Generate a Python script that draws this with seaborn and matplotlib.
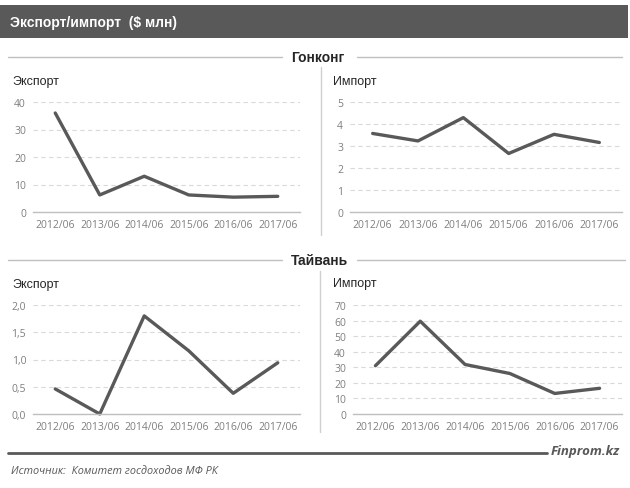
import matplotlib
matplotlib.use("Agg")
import matplotlib.pyplot as plt
import pandas as pd
import seaborn as sns

years = ["2012/06", "2013/06", "2014/06", "2015/06", "2016/06", "2017/06"]
hk_export = [36.0, 6.2, 13.0, 6.2, 5.4, 5.7]
hk_import = [3.57, 3.23, 4.29, 2.66, 3.53, 3.16]
tw_export = [0.46, 0.0, 1.80, 1.16, 0.38, 0.94]
tw_import = [31.0, 59.6, 31.8, 26.0, 13.2, 16.5]

hk_export_ticks = [0, 10, 20, 30, 40]
hk_import_ticks = [0, 1, 2, 3, 4, 5]
tw_export_ticks = [0, 0.5, 1.0, 1.5, 2.0]
tw_import_ticks = [0, 10, 20, 30, 40, 50, 60, 70]

sns.set_theme(style="white")
plt.rcParams["font.family"] = ["Liberation Sans", "DejaVu Sans"]

W, H = 630, 489
fig = plt.figure(figsize=(W / 100, H / 100), dpi=100)
line_color = "#595959"
tick_color = "#7f7f7f"


def px_axes(x0, y0, x1, y1):
    return fig.add_axes([x0 / W, 1 - y1 / H, (x1 - x0) / W, (y1 - y0) / H])


def draw_panel(ax, values, ticks, comma=False):
    df = pd.DataFrame({"period": years, "value": values})
    sns.lineplot(data=df, x="period", y="value", ax=ax, color=line_color,
                 linewidth=2.4, sort=False)
    ax.set_xlim(-0.5, len(years) - 0.5)
    ax.set_ylim(ticks[0], ticks[-1])
    ax.set_yticks(ticks)
    if comma:
        ax.set_yticklabels([f"{t:.1f}".replace(".", ",") for t in ticks])
    else:
        ax.set_yticklabels([str(t) for t in ticks])
    ax.set_xlabel("")
    ax.set_ylabel("")
    for s in ["top", "right", "left"]:
        ax.spines[s].set_visible(False)
    ax.spines["bottom"].set_color("#bfbfbf")
    ax.spines["bottom"].set_linewidth(1.0)
    ax.grid(axis="y", color="#d9d9d9", linestyle=(0, (4, 3)), linewidth=0.8)
    ax.set_axisbelow(True)
    ax.tick_params(axis="both", length=0, labelsize=7.5, labelcolor=tick_color, pad=5)
    for t in ax.get_xticklabels() + ax.get_yticklabels():
        t.set_family(["Open Sans", "DejaVu Sans"])
    ax.get_lines()[0].set_clip_on(False)


ax1 = px_axes(33, 103, 300, 213)
draw_panel(ax1, hk_export, hk_export_ticks)
ax2 = px_axes(350, 103, 622, 213)
draw_panel(ax2, hk_import, hk_import_ticks)
ax3 = px_axes(33, 306, 300, 415)
draw_panel(ax3, tw_export, tw_export_ticks, comma=True)
ax4 = px_axes(353, 306, 622, 415)
draw_panel(ax4, tw_import, tw_import_ticks)

# overlay for decorations in pixel coordinates
deco = fig.add_axes([0, 0, 1, 1], facecolor="none")
deco.set_xlim(0, W)
deco.set_ylim(H, 0)
deco.axis("off")

deco.add_patch(plt.Rectangle((0, 6), 628, 33, color="#595959", lw=0))
deco.text(10, 22.5, "Экспорт/импорт  ($ млн)", color="white", fontsize=10,
          fontweight="bold", va="center", ha="left")

# section headers
deco.plot([8, 282], [58, 58], color="#bfbfbf", lw=1)
deco.plot([357, 622], [58, 58], color="#bfbfbf", lw=1)
deco.text(318, 58, "Гонконг", fontsize=10, fontweight="bold", ha="center", va="center")
deco.plot([8, 282], [261, 261], color="#bfbfbf", lw=1)
deco.plot([357, 625], [261, 261], color="#bfbfbf", lw=1)
deco.text(319.5, 261, "Тайвань", fontsize=10, fontweight="bold", ha="center", va="center")

# panel labels
for x, y, s in [(12, 82, "Экспорт"), (333, 82, "Импорт"),
                (12, 285, "Экспорт"), (333, 284, "Импорт")]:
    deco.text(x, y, s, fontsize=9, ha="left", va="center")

# dividers
deco.plot([321, 321], [68, 236], color="#d0d0d0", lw=1)
deco.plot([320, 320], [272, 433], color="#d0d0d0", lw=1)

# footer
deco.plot([8, 547], [454, 454], color="#595959", lw=2)
deco.text(551, 452, "Finprom.kz", fontsize=9.5, fontweight="bold", style="italic",
          color="#595959", ha="left", va="center", family=["Open Sans", "DejaVu Sans"])
deco.text(11, 471, "Источник:  Комитет госдоходов МФ РК", fontsize=7.8, style="italic",
          color="#595959", ha="left", va="center", family=["Open Sans", "DejaVu Sans"])

fig.savefig("out.png", dpi=100, facecolor="white")
